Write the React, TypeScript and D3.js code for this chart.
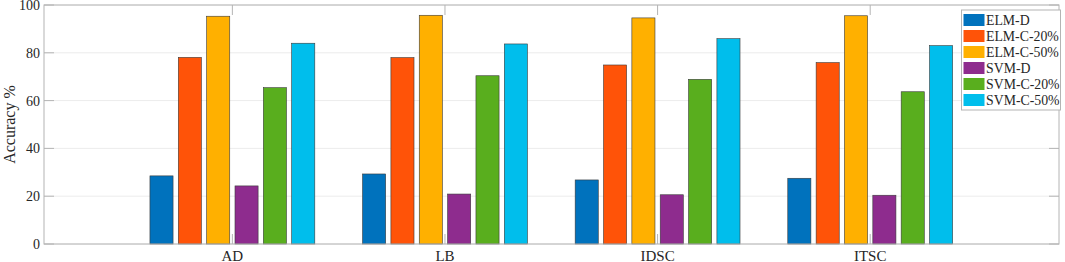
import React from "react";
import * as d3 from "d3";

const categories = ["AD", "LB", "IDSC", "ITSC"];
const seriesNames = ["ELM-D", "ELM-C-20%", "ELM-C-50%", "SVM-D", "SVM-C-20%", "SVM-C-50%"];
const elmD = [28.5, 29.3, 26.8, 27.5];
const elmC20 = [78.1, 78.0, 74.9, 75.9];
const elmC50 = [95.3, 95.7, 94.6, 95.5];
const svmD = [24.3, 20.9, 20.6, 20.4];
const svmC20 = [65.4, 70.4, 68.9, 63.7];
const svmC50 = [84.0, 83.7, 85.9, 83.0];
const yTicks = [0, 20, 40, 60, 80, 100];
const colors = ["#0072BD", "#FF5308", "#FFB000", "#8E2C8E", "#59AE1E", "#00BEEC"];

const seriesValues = [elmD, elmC20, elmC50, svmD, svmC20, svmC50];

const W = 1065;
const H = 262;
const left = 44;
const right = 1059;
const top = 5;
const bottom = 244;
const serif = "'Liberation Serif', 'DejaVu Serif', serif";

export default function App() {
  const x = d3.scaleLinear().domain([0.114, 4.888]).range([left, right]);
  const y = d3.scaleLinear().domain([0, 100]).range([bottom, top]);
  const groupW = 0.8;
  const step = groupW / seriesNames.length;
  const barW = step * 0.815;
  const axisColor = "#b4b4b4";

  return (
    <svg width={W} height={H} style={{ position: "absolute", left: 0, top: 0, background: "#fff" }}>
      <rect x={0} y={0} width={W} height={H} fill="#fff" />
      {yTicks.map((t) => (
        <line key={"g" + t} x1={left} x2={right} y1={y(t)} y2={y(t)} stroke="#ececec" strokeWidth={1} />
      ))}
      {seriesValues.map((vals, si) =>
        vals.map((v, ci) => {
          const cx = ci + 1 + (si - (seriesNames.length - 1) / 2) * step;
          return (
            <rect
              key={si + "-" + ci}
              x={x(cx - barW / 2)}
              y={y(v)}
              width={x(cx + barW / 2) - x(cx - barW / 2)}
              height={y(0) - y(v)}
              fill={colors[si]}
              stroke="#3a3a3a"
              strokeWidth={0.6}
            />
          );
        })
      )}
      <rect x={left} y={top} width={right - left} height={bottom - top} fill="none" stroke={axisColor} strokeWidth={1} />
      {yTicks.map((t) => (
        <g key={"t" + t}>
          <line x1={left} x2={left + 10} y1={y(t)} y2={y(t)} stroke={axisColor} />
          <line x1={right - 10} x2={right} y1={y(t)} y2={y(t)} stroke={axisColor} />
          <text x={left - 4} y={y(t) + 5} textAnchor="end" fontFamily={serif} fontSize={14} fill="#262626">
            {t}
          </text>
        </g>
      ))}
      {categories.map((c, i) => (
        <g key={c}>
          <line x1={x(i + 1)} x2={x(i + 1)} y1={bottom} y2={bottom - 10} stroke={axisColor} />
          <line x1={x(i + 1)} x2={x(i + 1)} y1={top} y2={top + 10} stroke={axisColor} />
          <text x={x(i + 1)} y={bottom + 16.5} textAnchor="middle" fontFamily={serif} fontSize={15} fill="#262626">
            {c}
          </text>
        </g>
      ))}
      <text
        transform={`translate(15, ${(top + bottom) / 2}) rotate(-90)`}
        textAnchor="middle"
        fontFamily={serif}
        fontSize={16}
        fill="#262626"
      >
        Accuracy %
      </text>
      <g>
        <rect x={961.5} y={10} width={99} height={100} fill="#fff" stroke={axisColor} strokeWidth={1} />
        {seriesNames.map((n, i) => (
          <g key={n}>
            <rect x={963.5} y={14 + i * 16} width={21} height={12} fill={colors[i]} />
            <text x={986} y={25 + i * 16} fontFamily={serif} fontSize={13.8} fill="#262626">
              {n}
            </text>
          </g>
        ))}
      </g>
    </svg>
  );
}
